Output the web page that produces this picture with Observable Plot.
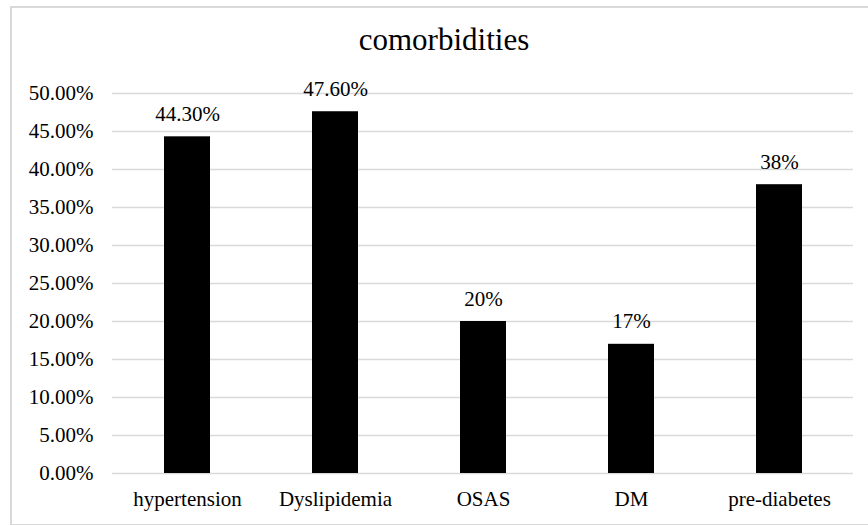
<!DOCTYPE html>
<html>
<head>
<meta charset="utf-8">
<script src="https://cdn.jsdelivr.net/npm/d3@7"></script>
<script src="https://cdn.jsdelivr.net/npm/@observablehq/plot@0.6"></script>
<style>
  html, body { margin: 0; padding: 0; background: #fff; }
  #wrap { position: relative; width: 868px; height: 525px; overflow: hidden; font-family: "Liberation Serif", Tinos, "Times New Roman", Times, "DejaVu Serif", serif; }
  #frame { position: absolute; left: 10px; top: 6px; width: 866px; height: 516px; border: 2px solid #d9d9d9; }
  #title { position: absolute; left: 10px; width: 868px; top: 22px; text-align: center; font-size: 31px; color: #000; line-height: 36px; }
  #chart { position: absolute; left: 0; top: 0; }
  #chart svg, #chart svg text { font-family: "Liberation Serif", Tinos, "Times New Roman", Times, "DejaVu Serif", serif !important; }
</style>
</head>
<body>
<div id="wrap">
  <div id="frame"></div>
  <div id="title">comorbidities</div>
  <div id="chart"></div>
</div>
<script>
// Share of patients with each comorbidity
const categories = ["hypertension", "Dyslipidemia", "OSAS", "DM", "pre-diabetes"];
const values = [0.443, 0.476, 0.20, 0.17, 0.38];
const valueLabels = ["44.30%", "47.60%", "20%", "17%", "38%"];
const yTicks = [0, 0.05, 0.10, 0.15, 0.20, 0.25, 0.30, 0.35, 0.40, 0.45, 0.50];

const rows = categories.map((c, i) => ({category: c, value: values[i], label: valueLabels[i]}));

const chart = Plot.plot({
  width: 868,
  height: 525,
  marginTop: 93,
  marginBottom: 52,
  marginLeft: 112,
  marginRight: 15,
  style: {fontSize: "21px", color: "#000", background: "transparent"},
  x: {domain: categories, paddingInner: 0.69, paddingOuter: 0.345, label: null},
  y: {domain: [0, 0.5], label: null},
  marks: [
    Plot.ruleY(yTicks, {stroke: "#d9d9d9", strokeWidth: 1.5}),
    Plot.barY(rows, {x: "category", y: "value", fill: "#000"}),
    Plot.text(rows, {x: "category", y: "value", text: "label", dy: -16, lineAnchor: "bottom", fill: "#000", fontSize: 21}),
    Plot.axisX({tickSize: 0, tickPadding: 18, fontSize: 21, label: null}),
    Plot.axisY({ticks: yTicks, tickSize: 0, tickPadding: 19, fontSize: 21, label: null,
      tickFormat: d => (d * 100).toFixed(2) + "%"})
  ]
});
document.getElementById("chart").appendChild(chart);
</script>
</body>
</html>
